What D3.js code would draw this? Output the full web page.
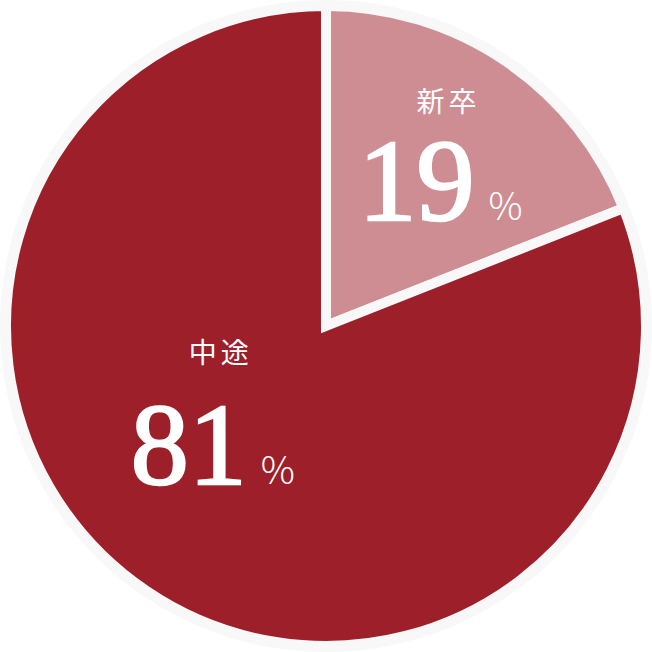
<!DOCTYPE html>
<html>
<head>
<meta charset="utf-8">
<script src="https://cdn.jsdelivr.net/npm/d3@7"></script>
<style>
  html, body { margin: 0; padding: 0; background: #fff; }
  svg { display: block; }
</style>
</head>
<body>
<svg id="pie" width="652" height="652"></svg>
<script>
const categories = ["新卒", "中途"];
const values = [19, 81];
const colors = ["#ce8d93", "#9c1f2a"];

const svg = d3.select("#pie");
const cx = 326, cy = 326;
const radius = 320;
const ringColor = "#f8f8f8";

const g = svg.append("g")
    .attr("transform", `translate(${cx},${cy})`);

// light ring behind the pie
g.append("circle")
    .attr("r", radius + 6)
    .attr("fill", ringColor);

const data = categories.map((c, i) => ({ name: c, value: values[i], color: colors[i] }));

const pie = d3.pie().value(d => d.value).sort(null);
const arc = d3.arc().innerRadius(0).outerRadius(radius);

const arcs = pie(data);

g.selectAll(".slice")
    .data(arcs)
    .enter().append("path")
    .attr("class", "slice")
    .attr("d", arc)
    .attr("fill", d => d.data.color)
    .attr("stroke", ringColor)
    .attr("stroke-width", 10)
    .attr("stroke-linejoin", "miter");

// label placement: radius, angle nudge, offsets per slice
const labelPos = [
    { r: 196, da: 0.04, dx: 6, dy: 0, ny: 52, ly: -56 },
    { r: 150, da: 0.30, dx: 12, dy: 6, ny: 58, ly: -63 }
];

const labels = g.selectAll(".label")
    .data(arcs)
    .enter().append("g")
    .attr("class", "label")
    .attr("transform", (d, i) => {
        const p = labelPos[i];
        const a = (d.startAngle + d.endAngle) / 2 + p.da;
        const x = Math.sin(a) * p.r + p.dx;
        const y = -Math.cos(a) * p.r + p.dy;
        return `translate(${x},${y})`;
    });

labels.append("text")
    .attr("text-anchor", "middle")
    .attr("y", (d, i) => labelPos[i].ly)
    .attr("fill", "#fff")
    .style("font-family", "'Noto Sans CJK JP', sans-serif")
    .style("font-size", "28px")
    .style("font-weight", 400)
    .style("letter-spacing", "4px")
    .text(d => d.data.name);

const num = labels.append("text")
    .attr("text-anchor", "middle")
    .attr("x", -8)
    .attr("y", (d, i) => labelPos[i].ny)
    .attr("fill", "#fff");

num.append("tspan")
    .style("font-family", "'Liberation Serif', 'Times New Roman', serif")
    .style("font-size", "116px")
    .style("stroke", "#fff")
    .style("stroke-width", "2.5px")
    .text(d => d.data.value);

num.append("tspan")
    .attr("dx", 14)
    .style("font-family", "'Noto Sans CJK JP', sans-serif")
    .style("font-size", "38px")
    .style("font-weight", 300)
    .text("%");
</script>
</body>
</html>
